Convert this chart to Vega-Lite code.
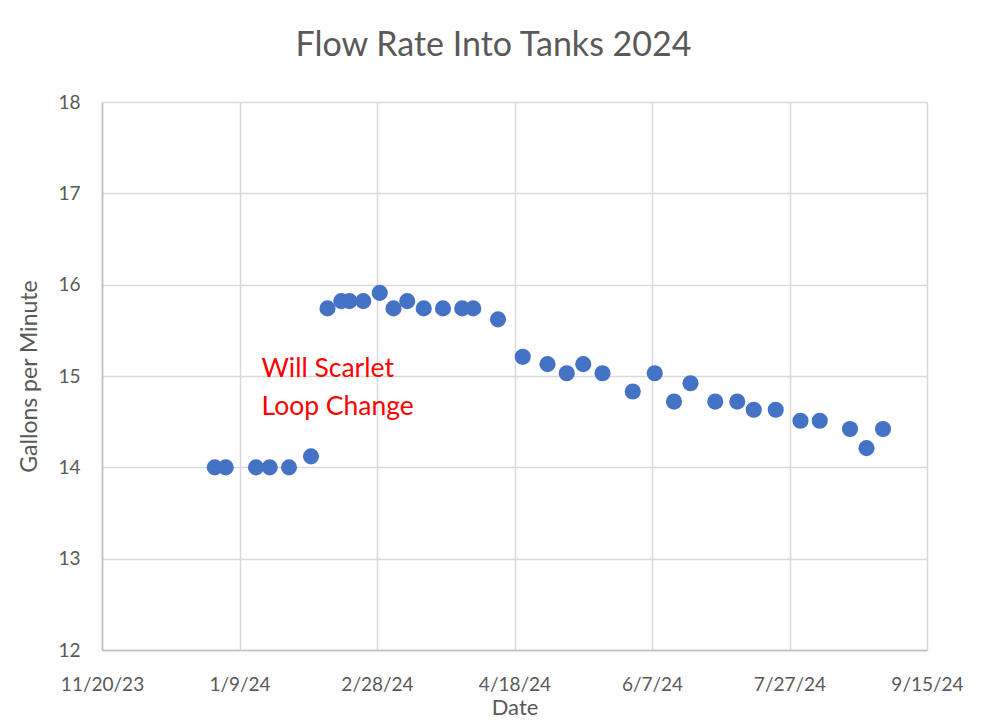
{
  "$schema": "https://vega.github.io/schema/vega-lite/v6.json",
  "autosize": "none",
  "width": 825,
  "height": 548,
  "padding": {"left": 102, "top": 102, "right": 54, "bottom": 75},
  "background": "white",
  "title": {
    "text": "Flow Rate Into Tanks 2024",
    "font": "Lato",
    "fontSize": 34,
    "fontWeight": "normal",
    "color": "#595959",
    "offset": 30,
    "dx": -21
  },
  "config": {
    "view": {"stroke": null},
    "font": "Lato"
  },
  "layer": [
    {
      "data": {
        "values": [
          {"date": "2023-12-31", "gpm": 14.0},
          {"date": "2024-01-04", "gpm": 14.0},
          {"date": "2024-01-15", "gpm": 14.0},
          {"date": "2024-01-20", "gpm": 14.0},
          {"date": "2024-01-27", "gpm": 14.0},
          {"date": "2024-02-04", "gpm": 14.12},
          {"date": "2024-02-10", "gpm": 15.74},
          {"date": "2024-02-15", "gpm": 15.82},
          {"date": "2024-02-18", "gpm": 15.82},
          {"date": "2024-02-23", "gpm": 15.82},
          {"date": "2024-02-29", "gpm": 15.91},
          {"date": "2024-03-05", "gpm": 15.74},
          {"date": "2024-03-10", "gpm": 15.82},
          {"date": "2024-03-16", "gpm": 15.74},
          {"date": "2024-03-23", "gpm": 15.74},
          {"date": "2024-03-30", "gpm": 15.74},
          {"date": "2024-04-03", "gpm": 15.74},
          {"date": "2024-04-12", "gpm": 15.62},
          {"date": "2024-04-21", "gpm": 15.21},
          {"date": "2024-04-30", "gpm": 15.13},
          {"date": "2024-05-07", "gpm": 15.03},
          {"date": "2024-05-13", "gpm": 15.13},
          {"date": "2024-05-20", "gpm": 15.03},
          {"date": "2024-05-31", "gpm": 14.83},
          {"date": "2024-06-08", "gpm": 15.03},
          {"date": "2024-06-15", "gpm": 14.72},
          {"date": "2024-06-21", "gpm": 14.92},
          {"date": "2024-06-30", "gpm": 14.72},
          {"date": "2024-07-08", "gpm": 14.72},
          {"date": "2024-07-14", "gpm": 14.63},
          {"date": "2024-07-22", "gpm": 14.63},
          {"date": "2024-07-31", "gpm": 14.51},
          {"date": "2024-08-07", "gpm": 14.51},
          {"date": "2024-08-18", "gpm": 14.42},
          {"date": "2024-08-24", "gpm": 14.21},
          {"date": "2024-08-30", "gpm": 14.42}
        ]
      },
      "mark": {"type": "point", "filled": true, "shape": "circle", "size": 260, "color": "#4472C4", "opacity": 1},
      "encoding": {
        "x": {
          "field": "date",
          "type": "temporal",
          "title": "Date",
          "scale": {"type": "utc", "domain": ["2023-11-20", "2024-09-15"]},
          "axis": {
            "values": ["2023-11-20", "2024-01-09", "2024-02-28", "2024-04-18", "2024-06-07", "2024-07-27", "2024-09-15"],
            "format": "%-m/%-d/%y",
            "grid": true,
            "gridColor": "#d9d9d9",
            "gridWidth": 1.5,
            "domainColor": "#bfbfbf",
            "domainWidth": 1.5,
            "ticks": false,
            "labelPadding": 25,
            "labelFont": "Lato",
            "labelFontSize": 19,
            "labelColor": "#595959",
            "labelFlush": false,
            "titleFont": "Lato",
            "titleFontSize": 22,
            "titleFontWeight": "normal",
            "titleColor": "#595959",
            "titlePadding": 3
          }
        },
        "y": {
          "field": "gpm",
          "type": "quantitative",
          "title": "Gallons per Minute",
          "scale": {"domain": [12, 18], "nice": false, "zero": false},
          "axis": {
            "values": [12, 13, 14, 15, 16, 17, 18],
            "format": "d",
            "grid": true,
            "gridColor": "#d9d9d9",
            "gridWidth": 1.5,
            "domainColor": "#bfbfbf",
            "domainWidth": 1.5,
            "ticks": false,
            "labelPadding": 22,
            "labelFont": "Lato",
            "labelFontSize": 19,
            "labelColor": "#595959",
            "titleFont": "Lato",
            "titleFontSize": 23,
            "titleFontWeight": "normal",
            "titleColor": "#595959",
            "titlePadding": 16
          }
        }
      }
    },
    {
      "data": {
        "values": [
          {"date": "2024-01-17", "gpm": 15.08, "label": "Will Scarlet"},
          {"date": "2024-01-17", "gpm": 14.66, "label": "Loop Change"}
        ]
      },
      "mark": {"type": "text", "align": "left", "baseline": "middle", "color": "#ff0000", "font": "Lato", "fontSize": 26.5},
      "encoding": {
        "x": {"field": "date", "type": "temporal"},
        "y": {"field": "gpm", "type": "quantitative"},
        "text": {"field": "label"}
      }
    }
  ]
}
